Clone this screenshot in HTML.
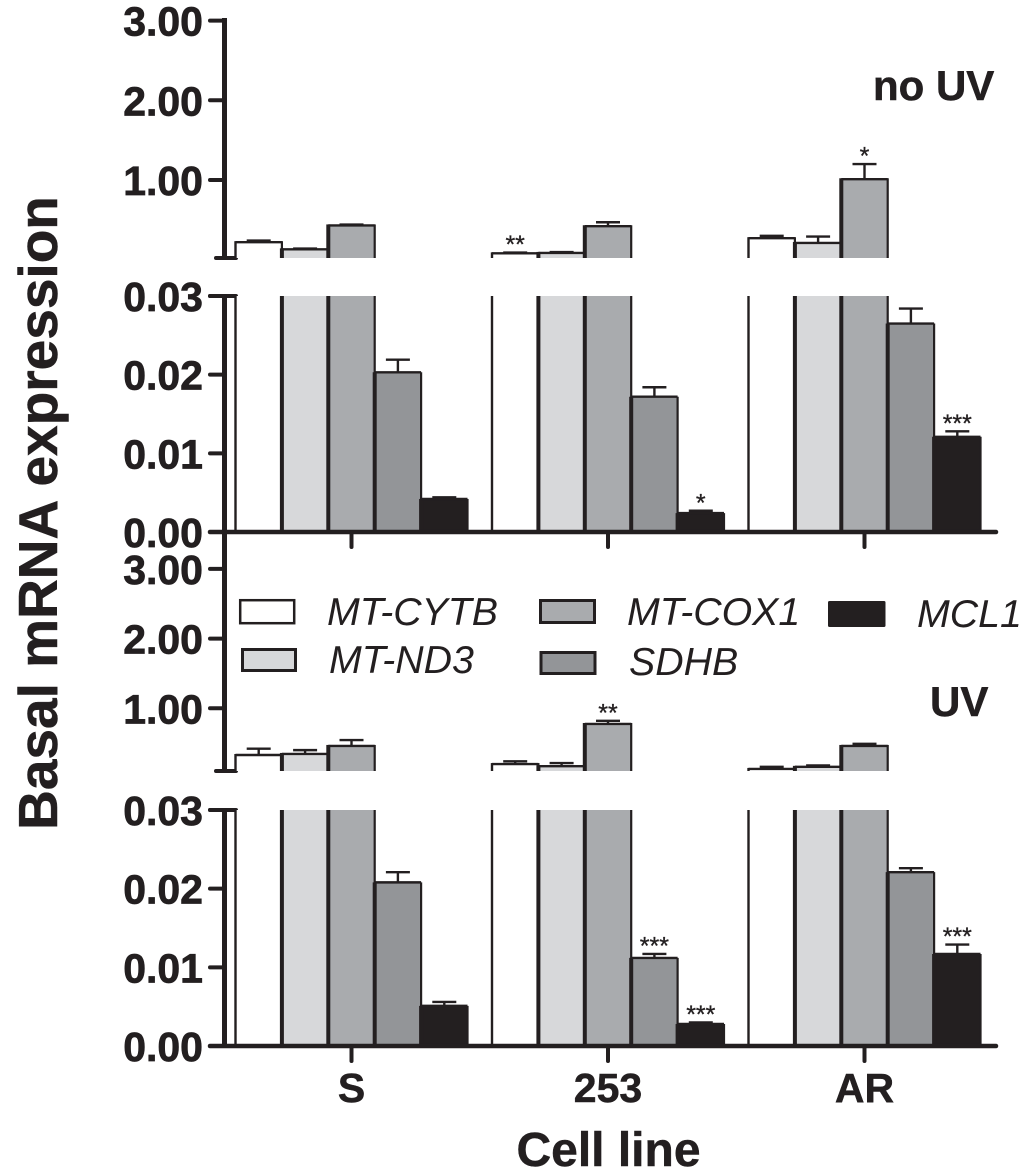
<!DOCTYPE html>
<html>
<head>
<meta charset="utf-8">
<style>
html,body{margin:0;padding:0;background:#fff}
svg{display:block}
text{font-family:"Liberation Sans",sans-serif;fill:#231f20}
.tick-label{font-size:41px;font-weight:bold;text-anchor:end;stroke:#231f20;stroke-width:.7px}
.cat-label{font-size:41px;font-weight:bold;text-anchor:middle;stroke:#231f20;stroke-width:.5px}
.title{font-weight:bold;stroke:#231f20;stroke-width:.5px}
.leg{font-size:39.3px;font-style:italic}
.star{font-size:25px;text-anchor:middle;stroke:#231f20;stroke-width:.3px}
.s0{fill:#ffffff}.s1{fill:#d7d8da}.s2{fill:#a9abae}.s3{fill:#939598}.s4{fill:#231f20}
.ln{stroke:#231f20;fill:none}
.rnd{stroke-linecap:round}
</style>
</head>
<body>
<svg id="chart" xmlns="http://www.w3.org/2000/svg" width="1024" height="1172" viewBox="0 0 1024 1172">
  <rect x="0" y="0" width="1024" height="1172" fill="#fff"/>
  <g id="marks"></g>
  <text class="title" font-size="55" text-anchor="middle" transform="translate(57,513) rotate(-90)">Basal mRNA expression</text>
  <text class="title" font-size="48" x="608.5" y="1166" text-anchor="middle">Cell line</text>
  <text class="title" font-size="42" x="873" y="100">no UV</text>
  <text class="title" font-size="42" x="930" y="716">UV</text>
  <g>
    <rect class="s0" x="240.2" y="600.2" width="54" height="23" stroke="#231f20" stroke-width="2.5"/>
    <text class="leg" x="327" y="625">MT-CYTB</text>
    <rect class="s1" x="242.5" y="649.5" width="53" height="21" stroke="#231f20" stroke-width="3"/>
    <text class="leg" x="329" y="673">MT-ND3</text>
    <rect class="s2" x="540.5" y="600.5" width="54" height="22" stroke="#231f20" stroke-width="3"/>
    <text class="leg" x="627" y="625">MT-COX1</text>
    <rect class="s3" x="541" y="652.5" width="54" height="21" stroke="#231f20" stroke-width="3"/>
    <text class="leg" x="629" y="675">SDHB</text>
    <rect class="s4" x="828" y="601" width="57.5" height="26" rx="1.5"/>
    <text class="leg" x="917" y="627">MCL1</text>
  </g>
</svg>
<script>
var categories = ['S', '253', 'AR'];
var seriesNames = ['mt-cytb', 'mt-nd3', 'mt-cox1', 'sdhb', 'mcl1'];
var upperTicks = ['3.00', '2.00', '1.00'];
var lowerTicks = ['0.03', '0.02', '0.01', '0.00'];

var noUvCytb = [0.22, 0.08, 0.27];
var noUvNd3 = [0.13, 0.085, 0.21];
var noUvCox1 = [0.43, 0.42, 1.01];
var noUvSdhb = [0.0203, 0.0172, 0.0265];
var noUvMcl1 = [0.0042, 0.0024, 0.0121];

var noUvCytbErr = [0.02, 0.01, 0.03];
var noUvNd3Err = [0.01, 0.01, 0.08];
var noUvCox1Err = [0.01, 0.05, 0.19];
var noUvSdhbErr = [0.0016, 0.0012, 0.0019];
var noUvMcl1Err = [0.0002, 0.0003, 0.0007];

var noUvCytbStars = ['', '**', ''];
var noUvNd3Stars = ['', '', ''];
var noUvCox1Stars = ['', '', '*'];
var noUvSdhbStars = ['', '', ''];
var noUvMcl1Stars = ['', '*', '***'];

var uvCytb = [0.33, 0.2, 0.13];
var uvNd3 = [0.345, 0.17, 0.16];
var uvCox1 = [0.46, 0.775, 0.46];
var uvSdhb = [0.0208, 0.0112, 0.0221];
var uvMcl1 = [0.0051, 0.0028, 0.0117];

var uvCytbErr = [0.09, 0.04, 0.03];
var uvNd3Err = [0.055, 0.045, 0.02];
var uvCox1Err = [0.085, 0.045, 0.03];
var uvSdhbErr = [0.0013, 0.0005, 0.0005];
var uvMcl1Err = [0.0005, 0.0002, 0.0012];

var uvCytbStars = ['', '', ''];
var uvNd3Stars = ['', '', ''];
var uvCox1Stars = ['', '**', ''];
var uvSdhbStars = ['', '***', ''];
var uvMcl1Stars = ['', '***', '***'];

var marks = document.getElementById('marks');
var NS = 'http://www.w3.org/2000/svg';
var BAR_W = 46.4;

function make(tag, props) {
  var el = document.createElementNS(NS, tag);
  for (var k in props) { el.setAttribute(k, props[k]); }
  marks.appendChild(el);
  return el;
}
function line(x1, y1, x2, y2, w, name, cls) {
  var el = make('line', {x1: x1, y1: y1, x2: x2, y2: y2, 'stroke-width': w, 'class': 'ln ' + (cls || '')});
  
  
  return el;
}
function xBand(i) { return 351.5 + i * 256.5; }
function xBar(i, j) { return xBand(i) - 2.5 * BAR_W + j * BAR_W; }

function drawPanel(p) {
  var yUp = function (v) { return p.upZero - v * p.upUnit; };
  var yLow = function (v) { return p.lowZero - v * 7867; };

  // axes
  line(224.5, p.upTop - 2, 224.5, p.upBase + 2, 5, p.id + '-upper-y-axis');
  line(224.5, p.lowTop - 2, 224.5, p.lowZero + 2, 5, p.id + '-lower-y-axis');
  line(216, p.upBase, 236, p.upBase, 4, p.id + '-upper-axis-base', 'rnd');
  line(210, p.lowTop, 236, p.lowTop, 4, p.id + '-lower-axis-top', 'rnd');

  upperTicks.forEach(function (t) {
    var y = yUp(parseFloat(t));
    line(210, y, 225, y, 4, p.id + '-upper-tick', 'rnd');
    var el = make('text', {'class': 'tick-label', x: 203, y: y + 15});
    el.textContent = t;
    
    
  });
  lowerTicks.forEach(function (t) {
    var y = yLow(parseFloat(t));
    line(210, y, 225, y, 4, p.id + '-lower-tick', 'rnd');
    var el = make('text', {'class': 'tick-label', x: 203, y: y + 15});
    el.textContent = t;
    
    
  });

  // bars
  p.means.forEach(function (vals, j) {
    vals.forEach(function (v, i) {
      var x = xBar(i, j), e = p.errs[j][i], star = p.stars[j][i];
      var name = seriesNames[j] + '-' + categories[i].toLowerCase();
      var leftW = j === 0 ? 2.4 : 4;
      var starY;

      // upper segment
      if (v > 0.03) {
        var top = yUp(v), errTop = yUp(v + e);
        line(x + BAR_W / 2, errTop, x + BAR_W / 2, top, 2.4, p.id + '-error-bar-' + name);
        line(x + BAR_W / 2 - 12, errTop, x + BAR_W / 2 + 12, errTop, 2.4, p.id + '-error-cap-' + name);
        var r1 = make('rect', {'class': 's' + j, x: x, y: top, width: BAR_W, height: Math.max(0, p.upBase - top)});
        
        
        line(x, top, x + BAR_W, top, 2.4, p.id + '-bar-top-' + name);
        line(x, top - 1, x, p.upBase, leftW, p.id + '-bar-left-' + name);
        line(x + BAR_W, top - 1, x + BAR_W, p.upBase, 2.2, p.id + '-bar-right-' + name);
        starY = errTop + 0.5;
      }

      // lower segment (axis break: tall bars clip at the segment top)
      var lt = Math.max(p.lowTop, yLow(v));
      var r2 = make('rect', {'class': 's' + j, x: x, y: lt, width: BAR_W, height: p.lowZero - lt});
      
      
      line(x, lt, x, p.lowZero, leftW, p.id + '-lower-bar-left-' + name);
      line(x + BAR_W, lt, x + BAR_W, p.lowZero, 2.2, p.id + '-lower-bar-right-' + name);
      if (yLow(v) > p.lowTop) {
        var etop = yLow(v + e);
        line(x + BAR_W / 2, etop, x + BAR_W / 2, lt, 2.4, p.id + '-error-bar-' + name);
        line(x + BAR_W / 2 - 12, etop, x + BAR_W / 2 + 12, etop, 2.4, p.id + '-error-cap-' + name);
        line(x, lt, x + BAR_W, lt, 2.4, p.id + '-bar-top-' + name);
        starY = etop + 0.5;
      }
      if (star) {
        var s = make('text', {'class': 'star', x: x + BAR_W / 2, y: starY});
        s.textContent = star;
        
        
      }
    });
  });

  // x axis
  line(210, p.lowZero, 996, p.lowZero, 4.5, p.id + '-x-axis', 'rnd');
  categories.forEach(function (c, i) {
    line(xBand(i), p.lowZero, xBand(i), p.lowZero + 15, 4, p.id + '-x-tick-' + c.toLowerCase(), 'rnd');
  });
}

drawPanel({
  id: 'no-uv',
  upZero: 259.7, upUnit: 79.7, upTop: 20, upBase: 258,
  lowZero: 532, lowTop: 296,
  means: [noUvCytb, noUvNd3, noUvCox1, noUvSdhb, noUvMcl1],
  errs: [noUvCytbErr, noUvNd3Err, noUvCox1Err, noUvSdhbErr, noUvMcl1Err],
  stars: [noUvCytbStars, noUvNd3Stars, noUvCox1Stars, noUvSdhbStars, noUvMcl1Stars]
});
drawPanel({
  id: 'uv',
  upZero: 778, upUnit: 69.7, upTop: 532, upBase: 771,
  lowZero: 1046, lowTop: 810,
  means: [uvCytb, uvNd3, uvCox1, uvSdhb, uvMcl1],
  errs: [uvCytbErr, uvNd3Err, uvCox1Err, uvSdhbErr, uvMcl1Err],
  stars: [uvCytbStars, uvNd3Stars, uvCox1Stars, uvSdhbStars, uvMcl1Stars]
});

categories.forEach(function (c, i) {
  var el = make('text', {'class': 'cat-label', x: xBand(i), y: 1102});
  el.textContent = c;
  
  
});
</script>
</body>
</html>
